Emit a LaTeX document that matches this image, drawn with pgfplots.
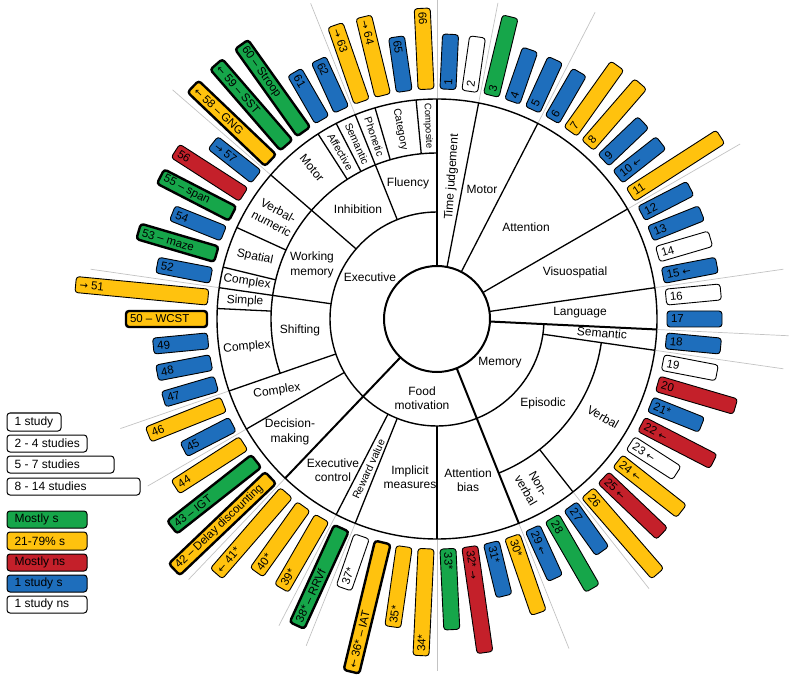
\documentclass[border=0pt]{standalone}
\usepackage{pgfplots}
\pgfplotsset{compat=1.18}
\usepackage{pgfplotstable}
\usepackage{fontspec}
\setmainfont{Liberation Sans}
\newfontfamily\arrowfont{DejaVu Sans}

% the arrows in the study labels are taken from DejaVu Sans
\catcode`←=\active \protected\def←{{\arrowfont\fontsize{10}{12}\selectfont\char"2190}}
\catcode`→=\active \protected\def→{{\arrowfont\fontsize{10}{12}\selectfont\char"2192}}

\definecolor{cg}{RGB}{22,166,74}
\definecolor{cy}{RGB}{255,194,14}
\definecolor{cr}{RGB}{196,32,42}
\definecolor{cb}{RGB}{30,110,188}
\definecolor{cw}{RGB}{255,255,255}
\definecolor{gline}{RGB}{195,195,195}

\newcommand\barfont{\fontsize{11.5}{13}\selectfont}
\newcommand\segfont{\fontsize{12}{14.5}\selectfont}
\newcommand\smallseg{\fontsize{10.5}{12}\selectfont}

% one study bar: drawn outward from its data point, turned to the bar angle
\pgfdeclareplotmark{radbar}{%
  \pgfscope
  \pgftransformrotate{\barang}%
  \pgfsetlinewidth{\barlw pt}%
  \pgfsetcornersarced{\pgfpoint{3pt}{3pt}}%
  \pgfpathmoveto{\pgfpoint{0pt}{0pt}}%
  \pgfpathlineto{\pgfpoint{0pt}{-8pt}}%
  \pgfpathlineto{\pgfpoint{\barlen pt}{-8pt}}%
  \pgfpathlineto{\pgfpoint{\barlen pt}{8pt}}%
  \pgfpathlineto{\pgfpoint{0pt}{8pt}}%
  \pgfpathclose
  \pgfusepath{fill,stroke}%
  \pgfsetcornersarced{\pgfpointorigin}%
  \pgfmathparse{cos(\barang)}%
  \ifdim\pgfmathresult pt>0pt
    \pgftext[left,at={\pgfpoint{4pt}{0pt}}]{\barfont\pgfplotspointmeta}%
  \else
    \pgftext[left,at={\pgfpoint{\barlen pt-4pt}{0pt}},rotate=180]{\barfont\pgfplotspointmeta}%
  \fi
  \endpgfscope
}

% idx = study number, n = length class (1 study, 2-4, 5-7, 8-14), lw = outline
\pgfplotstableread[col sep=comma]{
idx,n,lw,lab
3,2,0.9,3
28,2,0.9,28
33,2,0.9,33*
38,3,2.4,38* – RRVf
43,3,2.4,43 – IGT
53,2,2.4,53 – maze
55,2,2.4,55 – span
59,3,2.4,← 59 – SST
60,3,2.4,60 – Stroop
}\tblgreen

\pgfplotstableread[col sep=comma]{
idx,n,lw,lab
7,2,0.9,7
8,2,0.9,8
11,3,0.9,11
24,2,0.9,24 ←
26,3,0.9,26
30,2,0.9,30*
34,3,0.9,34*
35,2,0.9,35*
36,4,2.4,← 36* – IAT
39,2,0.9,39*
40,2,0.9,40*
41,3,0.9,← 41*
42,4,2.4,42 – Delay discounting
44,2,0.9,44
46,2,0.9,46
50,2,2.4,50 – WCST
51,4,0.9,→ 51
58,3,2.4,← 58 – GNG
63,2,0.9,→ 63
64,2,0.9,→ 64
66,2,0.9,66
}\tblyellow

\pgfplotstableread[col sep=comma]{
idx,n,lw,lab
20,2,0.9,20
22,2,0.9,22 ←
25,2,0.9,25 ←
32,3,0.9,32* →
56,2,0.9,56
}\tblred

\pgfplotstableread[col sep=comma]{
idx,n,lw,lab
1,1,0.9,1
4,1,0.9,4
5,1,0.9,5
6,1,0.9,6
9,1,0.9,9
10,1,0.9,10 ←
12,1,0.9,12
13,1,0.9,13
15,1,0.9,15 ←
17,1,0.9,17
18,1,0.9,18
21,1,0.9,21*
27,1,0.9,27
29,1,0.9,29 ←
31,1,0.9,31*
45,1,0.9,45
47,1,0.9,47
48,1,0.9,48
49,1,0.9,49
52,1,0.9,52
54,1,0.9,54
57,1,0.9,→ 57
61,1,0.9,61
62,1,0.9,62
65,1,0.9,65
}\tblblue

\pgfplotstableread[col sep=comma]{
idx,n,lw,lab
2,1,0.9,2
14,1,0.9,14
16,1,0.9,16
19,1,0.9,19
23,1,0.9,23 ←
37,1,0.9,37*
}\tblwhite

\pgfplotsset{
  radbars/.style={
    scatter, only marks, mark=radbar,
    point meta=explicit symbolic,
    scatter/@pre marker code/.code={\scope[draw=black, fill=#1]},
    scatter/@post marker code/.code={\endscope},
    visualization depends on={87.2727-(\thisrow{idx}-1)*5.45454 \as \barang},
    visualization depends on={29+26*\thisrow{n} \as \barlen},
    visualization depends on={\thisrow{lw} \as \barlw},
  },
}
\tikzset{seg/.style={font=\segfont, align=center, inner sep=0pt}}

\def\radline#1/#2/#3/#4\relax{%
  \draw[line width=#4pt] (axis cs:{#2*cos(#1)},{#2*sin(#1)}) -- (axis cs:{#3*cos(#1)},{#3*sin(#1)});}
\def\greyline#1/#2\relax{%
  \draw[gline, line width=0.7pt] (axis cs:{221*cos(#1)},{221*sin(#1)}) -- (axis cs:{#2*cos(#1)},{#2*sin(#1)});}

\begin{document}
\begin{tikzpicture}
\begin{axis}[
  name=ax, x=1pt, y=1pt,
  xmin=-437, xmax=363, ymin=-367, ymax=319,
  hide axis, clip=false, enlargelimits=false,
]
% grey separators between the groups of bars
\pgfplotsinvokeforeach{90/319, 79.09/322, 62.73/345, 30/350, 8.18/350, -2.73/352,
  -8.18/350, -51.82/343, -68.18/355, -90/352, -111.82/352, -117.27/345,
  -133.64/360, 210/334, 199.09/335, 171.82/350, 139.09/350, 111.82/340}{\greyline#1\relax}

% rings
\draw[line width=2pt] (axis cs:0,0) circle[radius=53pt];
\draw[line width=1.4pt] (axis cs:0,0) circle[radius=220pt];
\draw[line width=1.4pt] (axis cs:{107*cos(90)},{107*sin(90)}) arc[start angle=90, end angle=357.27, radius=107pt];
\draw[line width=1.4pt] (axis cs:{166*cos(90)},{166*sin(90)}) arc[start angle=90, end angle=199.09, radius=166pt];
\draw[line width=1.4pt] (axis cs:{166*cos(-68.18)},{166*sin(-68.18)}) arc[start angle=-68.18, end angle=-8.18, radius=166pt];

% radial boundaries
\pgfplotsinvokeforeach{90/53/220/2, 79.09/53/220/1.3, 62.73/53/220/1.3, 30/53/220/1.3,
  8.18/53/220/1.3, -2.73/53/220/2, -8.18/107/220/1.3, -51.82/166/220/1.3,
  -68.18/53/220/2, -90/107/220/1.3, -111.82/107/220/1.3, -117.27/107/220/1.3,
  -133.64/53/220/2, 210/107/220/1.3, 199.09/107/220/1.3, 177.27/166/220/1.3,
  171.82/107/220/1.3, 166.36/166/220/1.3, 155.45/166/220/1.3, 139.09/107/220/1.3,
  122.73/166/220/1.3, 117.27/166/220/1.3, 111.82/107/220/1.3, 106.36/166/220/1.3,
  95.45/166/220/1.3}{\radline#1\relax}

% category names
\node[seg] at (axis cs:-67,42) {Executive};
\node[seg] at (axis cs:63,-44) {Memory};
\node[seg] at (axis cs:-15,-79) {Food\\motivation};
\node[seg, rotate=86] at (axis cs:15,142) {Time judgement};
\node[seg] at (axis cs:45,130) {Motor};
\node[seg] at (axis cs:89,92) {Attention};
\node[seg] at (axis cs:138,47) {Visuospatial};
\node[seg] at (axis cs:143,6) {Language};
\node[seg, rotate=-5] at (axis cs:165,-14) {Semantic};
\node[seg] at (axis cs:106,-84) {Episodic};
\node[seg, rotate=-30] at (axis cs:166,-98) {Verbal};
\node[seg, rotate=-60] at (axis cs:95,-168) {Non-\\verbal};
\node[seg] at (axis cs:31,-161) {Attention\\bias};
\node[seg] at (axis cs:-27,-158) {Implicit\\measures};
\node[seg, rotate=65.5, font=\smallseg] at (axis cs:-68.4,-150.2) {Reward value};
\node[seg] at (axis cs:-104,-151) {Executive\\control};
\node[seg] at (axis cs:-147,-113) {Decision-\\making};
\node[seg, rotate=8] at (axis cs:-160,-72) {Complex};
\node[seg] at (axis cs:-137,-11) {Shifting};
\node[seg, rotate=5] at (axis cs:-190,-28) {Complex};
\node[seg, rotate=-3] at (axis cs:-192,18) {Simple};
\node[seg, rotate=-8] at (axis cs:-190,37) {Complex};
\node[seg, rotate=-12] at (axis cs:-182,62) {Spatial};
\node[seg, rotate=-28] at (axis cs:-162,102) {Verbal-\\numeric};
\node[seg] at (axis cs:-125,54) {Working\\memory};
\node[seg] at (axis cs:-79,110) {Inhibition};
\node[seg] at (axis cs:-29,136) {Fluency};
\node[seg, rotate=-50] at (axis cs:-125,151) {Motor};
\node[seg, rotate=-60, font=\smallseg] at (axis cs:-96.5,167.1) {Affective};
\node[seg, rotate=-65.5, font=\smallseg] at (axis cs:-80,175.5) {Semantic};
\node[seg, rotate=-71, font=\smallseg] at (axis cs:-62.8,182.5) {Phonetic};
\node[seg, rotate=-79, font=\smallseg] at (axis cs:-36.8,189.5) {Category};
\node[seg, rotate=-87.5, font=\fontsize{9.5}{11}\selectfont] at (axis cs:-9,193) {Composite};

% study bars
\addplot[radbars=cg] table[meta=lab, x expr={230*cos(87.2727-(\thisrow{idx}-1)*5.45454)}, y expr={230*sin(87.2727-(\thisrow{idx}-1)*5.45454)}] {\tblgreen};
\addplot[radbars=cy] table[meta=lab, x expr={230*cos(87.2727-(\thisrow{idx}-1)*5.45454)}, y expr={230*sin(87.2727-(\thisrow{idx}-1)*5.45454)}] {\tblyellow};
\addplot[radbars=cr] table[meta=lab, x expr={230*cos(87.2727-(\thisrow{idx}-1)*5.45454)}, y expr={230*sin(87.2727-(\thisrow{idx}-1)*5.45454)}] {\tblred};
\addplot[radbars=cb] table[meta=lab, x expr={230*cos(87.2727-(\thisrow{idx}-1)*5.45454)}, y expr={230*sin(87.2727-(\thisrow{idx}-1)*5.45454)}] {\tblblue};
\addplot[radbars=cw] table[meta=lab, x expr={230*cos(87.2727-(\thisrow{idx}-1)*5.45454)}, y expr={230*sin(87.2727-(\thisrow{idx}-1)*5.45454)}] {\tblwhite};

% key
\draw[line width=1pt, rounded corners=3pt] (axis cs:-430,-94) rectangle (axis cs:-376,-112);
\node[anchor=west, font=\segfont] at (axis cs:-426,-103) {1 study};
\draw[line width=1pt, rounded corners=3pt] (axis cs:-430,-116) rectangle (axis cs:-350,-133);
\node[anchor=west, font=\segfont] at (axis cs:-426,-124.5) {2 - 4 studies};
\draw[line width=1pt, rounded corners=3pt] (axis cs:-430,-137) rectangle (axis cs:-323,-154);
\node[anchor=west, font=\segfont] at (axis cs:-426,-145.5) {5 - 7 studies};
\draw[line width=1pt, rounded corners=3pt] (axis cs:-430,-159) rectangle (axis cs:-297,-176);
\node[anchor=west, font=\segfont] at (axis cs:-426,-167.5) {8 - 14 studies};

\draw[line width=1pt, rounded corners=3pt, fill=cg] (axis cs:-430,-192) rectangle (axis cs:-350,-209);
\node[anchor=west, font=\segfont] at (axis cs:-426,-200.5) {Mostly s};
\draw[line width=1pt, rounded corners=3pt, fill=cy] (axis cs:-430,-213) rectangle (axis cs:-350,-231);
\node[anchor=west, font=\segfont] at (axis cs:-426,-222) {21-79\% s};
\draw[line width=1pt, rounded corners=3pt, fill=cr] (axis cs:-430,-235) rectangle (axis cs:-350,-252);
\node[anchor=west, font=\segfont] at (axis cs:-426,-243.5) {Mostly ns};
\draw[line width=1pt, rounded corners=3pt, fill=cb] (axis cs:-430,-256) rectangle (axis cs:-350,-273);
\node[anchor=west, font=\segfont] at (axis cs:-426,-264.5) {1 study s};
\draw[line width=1pt, rounded corners=3pt, fill=cw] (axis cs:-430,-277) rectangle (axis cs:-350,-294);
\node[anchor=west, font=\segfont] at (axis cs:-426,-285.5) {1 study ns};
\end{axis}
\pgfresetboundingbox
\useasboundingbox (ax.south west) rectangle (ax.north east);
\end{tikzpicture}
\end{document}
